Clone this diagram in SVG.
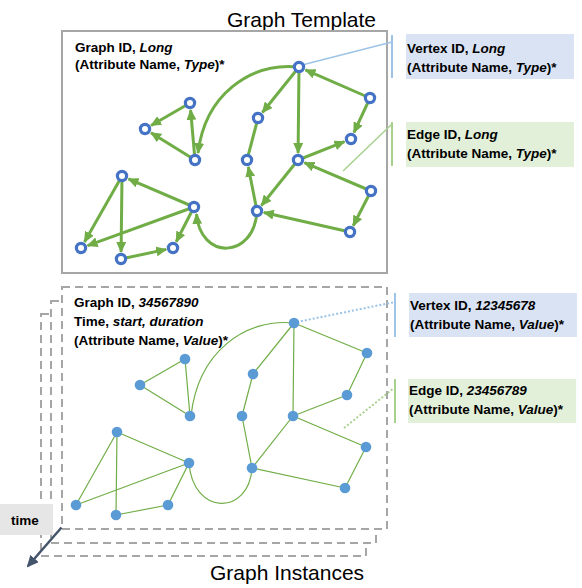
<svg xmlns="http://www.w3.org/2000/svg" width="582" height="588" viewBox="0 0 582 588">
<style>
.t{font-family:"Liberation Sans",Arial,sans-serif;font-weight:bold;font-size:13.5px;fill:#000}
.i{font-style:italic}
.title{font-family:"Liberation Sans",Arial,sans-serif;font-size:21px;fill:#000}
.arr{fill:none;stroke:#70ad47;stroke-width:3;marker-end:url(#ah)}
.ln{fill:none;stroke:#70ad47;stroke-width:1.2}
.ring{fill:#fff;stroke:#4472c4;stroke-width:3.2}
.dot{fill:#5b9bd5}
.frame{fill:#fff;stroke:#a6a6a6;stroke-width:2;stroke-dasharray:8 5}
</style>
<defs>
<marker id="ah" markerUnits="userSpaceOnUse" markerWidth="11" markerHeight="10" viewBox="0 0 11 10" refX="10" refY="5" orient="auto">
<path d="M0,0 L11,5 L0,10 z" fill="#70ad47"/>
</marker>
<marker id="ta" markerUnits="userSpaceOnUse" markerWidth="12" markerHeight="11" viewBox="0 0 12 11" refX="10" refY="5.5" orient="auto">
<path d="M0,0 L12,5.5 L0,11 z" fill="#44546a"/>
</marker>
</defs>

<!-- Titles -->
<text class="title" x="227" y="27">Graph Template</text>
<text class="title" x="210" y="580">Graph Instances</text>

<!-- Template frame -->
<g id="template">
<rect x="62" y="31" width="325" height="242" fill="#fff" stroke="#a6a6a6" stroke-width="2"/>
<text class="t" x="75" y="52">Graph ID, <tspan class="i">Long</tspan></text>
<text class="t" x="75" y="69">(Attribute Name, <tspan class="i">Type</tspan>)*</text>
</g>

<!-- Instance frames -->
<g id="instances">
<rect class="frame" x="41" y="314" width="325" height="242"/>
<rect class="frame" x="51" y="301" width="325" height="242"/>
<rect class="frame" x="62" y="287" width="325" height="242"/>
<text class="t" x="74" y="307">Graph ID, <tspan class="i">34567890</tspan></text>
<text class="t" x="74" y="326">Time, <tspan class="i">start, duration</tspan></text>
<text class="t" x="74" y="345">(Attribute Name, <tspan class="i">Value</tspan>)*</text>
</g>

<!-- Callouts -->
<g id="callout-vertex-template">
<rect x="406" y="34" width="168" height="45" fill="#dae3f3"/>
<text class="t" x="407" y="53">Vertex ID, <tspan class="i">Long</tspan></text>
<text class="t" x="407" y="72">(Attribute Name, <tspan class="i">Type</tspan>)*</text>
</g>
<g id="callout-edge-template">
<rect x="406" y="122" width="168" height="45" fill="#e2f0d9"/>
<text class="t" x="407" y="139">Edge ID, <tspan class="i">Long</tspan></text>
<text class="t" x="407" y="158">(Attribute Name, <tspan class="i">Type</tspan>)*</text>
</g>
<g id="callout-vertex-instance">
<rect x="409" y="293" width="168" height="44" fill="#dae3f3"/>
<text class="t" x="410" y="310">Vertex ID, <tspan class="i">12345678</tspan></text>
<text class="t" x="410" y="329">(Attribute Name, <tspan class="i">Value</tspan>)*</text>
</g>
<g id="callout-edge-instance">
<rect x="408" y="379" width="168" height="44" fill="#e2f0d9"/>
<text class="t" x="409" y="395">Edge ID, <tspan class="i">23456789</tspan></text>
<text class="t" x="409" y="414">(Attribute Name, <tspan class="i">Value</tspan>)*</text>
</g>

<!-- time label -->
<g id="time">
<rect x="0" y="504" width="53" height="31" fill="#e7e6e6"/>
<text class="t" x="25" y="525" text-anchor="middle">time</text>
</g>

<g id="connectors">
<!-- callout leaders -->
<line x1="392" y1="35" x2="392" y2="78" stroke="#9dc3e6" stroke-width="2"/>
<line x1="302" y1="65" x2="392" y2="42" stroke="#9dc3e6" stroke-width="1.5"/>
<line x1="392" y1="122" x2="392" y2="166" stroke="#a9d18e" stroke-width="2"/>
<line x1="343" y1="171" x2="392" y2="124" stroke="#a9d18e" stroke-width="1.5"/>
<line x1="395" y1="293" x2="395" y2="337" stroke="#9dc3e6" stroke-width="2"/>
<line x1="297" y1="322" x2="395" y2="302" stroke="#9dc3e6" stroke-width="2" stroke-dasharray="2 2"/>
<line x1="395" y1="379" x2="395" y2="423" stroke="#a9d18e" stroke-width="2"/>
<line x1="344" y1="428" x2="394" y2="388" stroke="#a9d18e" stroke-width="2" stroke-dasharray="2 2"/>
<!-- time arrow -->
<line x1="61.5" y1="527.5" x2="28" y2="566" stroke="#44546a" stroke-width="2.5" marker-end="url(#ta)"/>

<!-- template edges -->
<line class="arr" x1="370" y1="98" x2="305.4" y2="69.8"/>
<line class="arr" x1="299" y1="67" x2="262.4" y2="112.5"/>
<line class="arr" x1="299" y1="67" x2="298.1" y2="153"/>
<line class="arr" x1="370" y1="98" x2="353.9" y2="132.6"/>
<line class="arr" x1="298" y1="160" x2="344.5" y2="141.6"/>
<line class="arr" x1="371" y1="191" x2="304.4" y2="162.7"/>
<line class="arr" x1="298" y1="160" x2="261.4" y2="205.5"/>
<line class="arr" x1="257" y1="211" x2="248.3" y2="166.9"/>
<line class="arr" x1="371" y1="191" x2="353.2" y2="225.8"/>
<line class="arr" x1="350" y1="232" x2="263.8" y2="212.5"/>
<line class="arr" x1="195" y1="160" x2="190.6" y2="110"/>
<line class="arr" x1="190" y1="103" x2="151.1" y2="125.5"/>
<line class="arr" x1="195" y1="160" x2="151" y2="132.7"/>
<line class="arr" x1="194" y1="207" x2="128.4" y2="178.8"/>
<line class="arr" x1="122" y1="176" x2="84.5" y2="241.9"/>
<line class="arr" x1="194" y1="207" x2="87.6" y2="245.6"/>
<line class="arr" x1="122" y1="176" x2="121.1" y2="252"/>
<line class="arr" x1="121" y1="259" x2="166.2" y2="249.4"/>
<line class="arr" x1="194" y1="207" x2="176.2" y2="241.8"/>
<line x1="258" y1="118" x2="247" y2="160" stroke="#70ad47" stroke-width="3"/>
<path class="arr" d="M299,67 C250,62 205,95 198,153"/>
<path class="arr" d="M257,211 C254,260 200,260 196.5,214"/>

<!-- instance edges -->
<line class="ln" x1="294" y1="323" x2="367" y2="353"/>
<line class="ln" x1="294" y1="323" x2="253" y2="374"/>
<line class="ln" x1="294" y1="323" x2="293" y2="416"/>
<line class="ln" x1="367" y1="353" x2="347" y2="395"/>
<line class="ln" x1="293" y1="416" x2="347" y2="395"/>
<line class="ln" x1="366" y1="447" x2="293" y2="416"/>
<line class="ln" x1="293" y1="416" x2="252" y2="468"/>
<line class="ln" x1="252" y1="468" x2="242" y2="416"/>
<line class="ln" x1="253" y1="374" x2="242" y2="416"/>
<line class="ln" x1="366" y1="447" x2="345" y2="488"/>
<line class="ln" x1="345" y1="488" x2="252" y2="468"/>
<line class="ln" x1="190" y1="416" x2="185" y2="359"/>
<line class="ln" x1="185" y1="359" x2="140" y2="385"/>
<line class="ln" x1="190" y1="416" x2="140" y2="385"/>
<line class="ln" x1="189" y1="463" x2="117" y2="432"/>
<line class="ln" x1="117" y1="432" x2="76" y2="505"/>
<line class="ln" x1="189" y1="463" x2="76" y2="505"/>
<line class="ln" x1="117" y1="432" x2="116" y2="515"/>
<line class="ln" x1="116" y1="515" x2="168" y2="505"/>
<line class="ln" x1="189" y1="463" x2="168" y2="505"/>
<path class="ln" d="M294,323 C245,318 198,352 191,416"/>
<path class="ln" d="M252,468 C249,516 193,516 189,463"/>
</g>

<!-- template vertices -->
<g id="tA"><circle class="ring" cx="299" cy="67" r="4.6"/></g>
<g id="tB"><circle class="ring" cx="370" cy="98" r="4.6"/></g>
<g id="tC"><circle class="ring" cx="190" cy="103" r="4.6"/></g>
<g id="tD"><circle class="ring" cx="145" cy="129" r="4.6"/></g>
<g id="tE"><circle class="ring" cx="258" cy="118" r="4.6"/></g>
<g id="tF"><circle class="ring" cx="351" cy="139" r="4.6"/></g>
<g id="tG"><circle class="ring" cx="195" cy="160" r="4.6"/></g>
<g id="tH"><circle class="ring" cx="247" cy="160" r="4.6"/></g>
<g id="tI"><circle class="ring" cx="298" cy="160" r="4.6"/></g>
<g id="tJ"><circle class="ring" cx="122" cy="176" r="4.6"/></g>
<g id="tK"><circle class="ring" cx="194" cy="207" r="4.6"/></g>
<g id="tL"><circle class="ring" cx="257" cy="211" r="4.6"/></g>
<g id="tM"><circle class="ring" cx="371" cy="191" r="4.6"/></g>
<g id="tN"><circle class="ring" cx="350" cy="232" r="4.6"/></g>
<g id="tO"><circle class="ring" cx="81" cy="248" r="4.6"/></g>
<g id="tP"><circle class="ring" cx="121" cy="259" r="4.6"/></g>
<g id="tQ"><circle class="ring" cx="173" cy="248" r="4.6"/></g>

<!-- instance vertices -->
<g id="iA"><circle class="dot" cx="294" cy="323" r="5.3"/></g>
<g id="iB"><circle class="dot" cx="367" cy="353" r="5.3"/></g>
<g id="iC"><circle class="dot" cx="185" cy="359" r="5.3"/></g>
<g id="iD"><circle class="dot" cx="140" cy="385" r="5.3"/></g>
<g id="iE"><circle class="dot" cx="253" cy="374" r="5.3"/></g>
<g id="iF"><circle class="dot" cx="347" cy="395" r="5.3"/></g>
<g id="iG"><circle class="dot" cx="190" cy="416" r="5.3"/></g>
<g id="iH"><circle class="dot" cx="242" cy="416" r="5.3"/></g>
<g id="iI"><circle class="dot" cx="293" cy="416" r="5.3"/></g>
<g id="iJ"><circle class="dot" cx="117" cy="432" r="5.3"/></g>
<g id="iK"><circle class="dot" cx="189" cy="463" r="5.3"/></g>
<g id="iL"><circle class="dot" cx="252" cy="468" r="5.3"/></g>
<g id="iM"><circle class="dot" cx="366" cy="447" r="5.3"/></g>
<g id="iN"><circle class="dot" cx="345" cy="488" r="5.3"/></g>
<g id="iO"><circle class="dot" cx="76" cy="505" r="5.3"/></g>
<g id="iP"><circle class="dot" cx="116" cy="515" r="5.3"/></g>
<g id="iQ"><circle class="dot" cx="168" cy="505" r="5.3"/></g>
</svg>
